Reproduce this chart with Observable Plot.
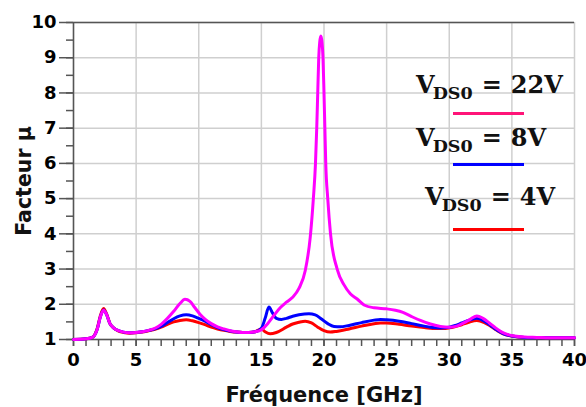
<!DOCTYPE html>
<html>
<head>
<meta charset="utf-8">
<script src="https://cdn.jsdelivr.net/npm/d3@7"></script>
<script src="https://cdn.jsdelivr.net/npm/@observablehq/plot@0.6"></script>
<style>
  body { margin: 0; background: #fff; }
  #wrap { position: relative; width: 586px; height: 407px; }
  .leg { position: absolute; font-family: "DejaVu Serif", serif; font-weight: bold; font-size: 24px; color: #111; white-space: nowrap; line-height: 1; }
  .leg sub { font-size: 17.5px; vertical-align: -6px; margin-left: -2px; }
  .leg .eq { display: inline-block; margin: 0 9px; }
  .sw { position: absolute; height: 3px; width: 71px; left: 453px; }
</style>
</head>
<body>
<div id="wrap"></div>
<script>
// Frequency (GHz) vs stability factor µ, one array per V_DS0 bias
const labels = ["22V", "8V", "4V"];
const colors = ["#ff00ff", "#0000ff", "#ff0000"];
const legendColors = ["#ff1478", "#0000ff", "#ff0000"];

const mu22V = [
  [0,1.0],[1,1.02],[1.5,1.06],[1.9,1.3],[2.15,1.65],[2.4,1.83],[2.65,1.7],[2.9,1.46],[3.2,1.33],[3.6,1.25],
  [4,1.21],[4.5,1.19],[5,1.2],[5.5,1.22],[6,1.26],[6.5,1.32],[7,1.43],[7.5,1.6],[8,1.8],[8.5,2.02],
  [8.9,2.14],[9.3,2.08],[9.7,1.9],[10.1,1.72],[10.5,1.58],[11,1.45],[11.5,1.36],[12,1.3],[12.5,1.25],[13,1.22],
  [13.5,1.2],[14,1.2],[14.5,1.22],[15,1.28],[15.5,1.45],[16,1.68],[16.5,1.9],[17,2.06],[17.5,2.2],[18,2.45],
  [18.5,2.95],[18.9,3.9],[19.15,5.0],[19.32,6.0],[19.42,7.0],[19.5,8.0],[19.58,9.0],[19.66,9.45],[19.75,9.62],[19.84,9.45],
  [19.92,9.0],[20.0,8.0],[20.07,7.0],[20.14,6.0],[20.3,5.0],[20.52,4.0],[21.05,3.0],[21.6,2.55],[22.1,2.3],[22.65,2.15],
  [23.2,1.98],[24,1.9],[25,1.87],[25.7,1.83],[26.3,1.77],[27,1.65],[27.7,1.54],[28.5,1.44],[29.3,1.37],[30,1.35],
  [30.6,1.38],[31.2,1.48],[31.7,1.58],[32.2,1.67],[32.7,1.6],[33.2,1.47],[33.7,1.33],[34.2,1.21],[34.7,1.14],[35.2,1.1],
  [36,1.07],[37,1.06],[38,1.05],[39,1.05],[40,1.05]
];
const mu8V = [
  [0,1.0],[1,1.02],[1.5,1.06],[1.9,1.3],[2.15,1.65],[2.4,1.84],[2.65,1.7],[2.9,1.46],[3.2,1.33],[3.6,1.25],
  [4,1.21],[4.5,1.19],[5,1.2],[5.5,1.22],[6,1.26],[6.5,1.3],[7,1.37],[7.5,1.48],[8,1.59],[8.5,1.67],
  [9,1.7],[9.5,1.67],[10,1.6],[10.5,1.52],[11,1.42],[11.5,1.34],[12,1.28],[12.5,1.24],[13,1.21],[13.5,1.2],
  [14,1.2],[14.5,1.22],[15,1.32],[15.3,1.6],[15.6,1.92],[15.9,1.75],[16.2,1.6],[16.6,1.57],[17,1.6],[17.5,1.66],
  [18,1.7],[18.8,1.73],[19.3,1.7],[19.8,1.58],[20.3,1.45],[20.8,1.37],[21.3,1.36],[22,1.4],[23,1.48],[24,1.55],
  [24.5,1.57],[25,1.56],[26,1.52],[27,1.45],[28,1.38],[28.5,1.35],[29.3,1.33],[30,1.35],[30.5,1.4],[31,1.47],
  [31.5,1.54],[32.2,1.6],[32.8,1.52],[33.3,1.4],[33.8,1.27],[34.3,1.17],[35,1.1],[36,1.06],[37,1.05],[38,1.05],
  [40,1.05]
];
const mu4V = [
  [0,1.0],[1,1.02],[1.5,1.06],[1.9,1.32],[2.15,1.68],[2.4,1.88],[2.65,1.72],[2.9,1.46],[3.2,1.33],[3.6,1.24],
  [4,1.2],[4.5,1.18],[5,1.19],[5.5,1.21],[6,1.25],[6.5,1.29],[7,1.35],[7.5,1.43],[8,1.5],[8.5,1.54],
  [9,1.56],[9.5,1.53],[10,1.48],[10.5,1.42],[11,1.35],[11.5,1.3],[12,1.26],[12.5,1.23],[13,1.21],[13.5,1.2],
  [14,1.2],[14.5,1.22],[15,1.3],[15.3,1.22],[15.7,1.16],[16.2,1.2],[17,1.35],[17.5,1.44],[18,1.49],[18.5,1.52],
  [19,1.47],[19.5,1.35],[20,1.25],[20.5,1.21],[21,1.23],[22,1.3],[23,1.38],[24,1.45],[24.5,1.47],[25,1.47],
  [26,1.43],[27,1.38],[28,1.34],[29,1.31],[29.5,1.31],[30,1.33],[31,1.42],[31.5,1.48],[32.2,1.54],[32.8,1.48],
  [33.3,1.38],[33.8,1.26],[34.3,1.16],[35,1.1],[36,1.06],[38,1.05],[40,1.05]
];

const xMajor = [0, 5, 10, 15, 20, 25, 30, 35, 40];
const xMinor = d3.range(0, 41, 1);
const yMajor = [1, 2, 3, 4, 5, 6, 7, 8, 9, 10];
const yMinor = d3.range(1, 10.01, 0.5);

const rows = [];
[[mu22V, "22V"], [mu8V, "8V"], [mu4V, "4V"]].forEach(([arr, s]) => arr.forEach(([f, m]) => rows.push({f, m, s})));

const axisColor = "#555";
const font = "DejaVu Sans";

const chart = Plot.plot({
  width: 586,
  height: 407,
  marginLeft: 73,
  marginRight: 12,
  marginTop: 22,
  marginBottom: 68,
  style: {fontFamily: font, background: "#fff", color: "#000"},
  x: {domain: [0, 40]},
  y: {domain: [1, 10]},
  marks: [
    Plot.gridX(xMajor, {stroke: "#cfcfcf", strokeOpacity: 1, strokeWidth: 1.5}),
    Plot.gridY(yMajor, {stroke: "#cfcfcf", strokeOpacity: 1, strokeWidth: 1.5}),
    Plot.axisX(xMinor, {tickSize: 7, tickFormat: () => "", stroke: axisColor, strokeWidth: 1.5, label: null}),
    Plot.axisX(xMajor, {tickSize: 7, tickPadding: 7, fontSize: 18, fontWeight: "bold", fill: "#000", stroke: axisColor, strokeWidth: 1.5, label: null}),
    Plot.axisY(yMinor, {tickSize: 7, tickFormat: () => "", stroke: axisColor, strokeWidth: 1.5, label: null}),
    Plot.axisY(yMajor, {tickSize: 14, tickPadding: 3, fontSize: 18, fontWeight: "bold", fill: "#000", stroke: axisColor, strokeWidth: 1.5, label: null}),
    Plot.axisX([], {label: "Fréquence [GHz]", labelAnchor: "center", labelArrow: "none", labelOffset: 62, fontSize: 21, fontWeight: "bold", fill: "#111"}),
    Plot.axisY([], {label: "Facteur µ", labelAnchor: "center", labelArrow: "none", labelOffset: 57, fontSize: 20.5, fontWeight: "bold", fill: "#111"}),
    Plot.ruleX([0], {stroke: axisColor, strokeWidth: 1.5}),
    Plot.ruleY([1], {stroke: axisColor, strokeWidth: 1.5}),
    Plot.ruleY([10], {stroke: axisColor, strokeWidth: 1.5}),
    Plot.line(rows.filter(d => d.s === "4V"), {x: "f", y: "m", stroke: colors[2], strokeWidth: 3, curve: "monotone-x"}),
    Plot.line(rows.filter(d => d.s === "8V"), {x: "f", y: "m", stroke: colors[1], strokeWidth: 3, curve: "monotone-x"}),
    Plot.line(rows.filter(d => d.s === "22V"), {x: "f", y: "m", stroke: colors[0], strokeWidth: 3, curve: "monotone-x"})
  ]
});
const wrap = document.getElementById("wrap");
wrap.appendChild(chart);

// legend overlay
const legPos = [
  {left: 416, top: 73, line: 112},
  {left: 416, top: 126, line: 163},
  {left: 425, top: 185, line: 228}
];
labels.forEach((lab, i) => {
  const d = document.createElement("div");
  d.className = "leg";
  d.style.left = legPos[i].left + "px";
  d.style.top = legPos[i].top + "px";
  d.innerHTML = `V<sub>DS0</sub><span class="eq">=</span>${lab}`;
  wrap.appendChild(d);
  const s = document.createElement("div");
  s.className = "sw";
  s.style.top = legPos[i].line + "px";
  s.style.background = legendColors[i];
  wrap.appendChild(s);
});
</script>
</body>
</html>
